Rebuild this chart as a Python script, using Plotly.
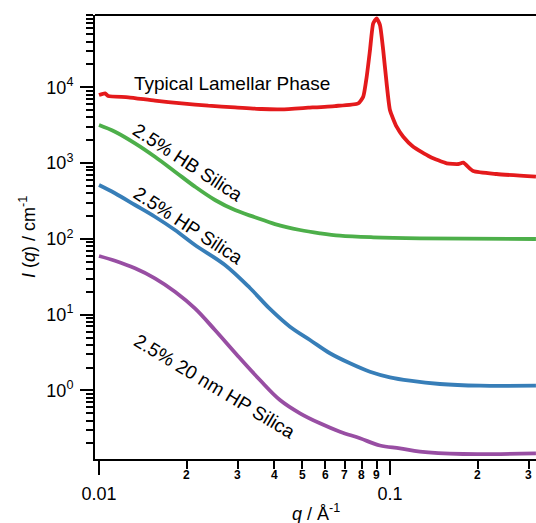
import math
import plotly.graph_objects as go

# ---------------- data ----------------
q_lam = [0.0100, 0.01049, 0.01076, 0.01261, 0.01557, 0.01924, 0.02375, 0.02934, 0.03623, 0.04244,
         0.05239, 0.06471, 0.07783, 0.08094, 0.0832, 0.0854, 0.0876, 0.0900, 0.0924, 0.0948,
         0.0974, 0.1000, 0.1054, 0.1111, 0.1202, 0.1372, 0.1566, 0.1717, 0.1786, 0.1933,
         0.2326, 0.3175]
I_lam = [7915, 8337, 7674, 7382, 6653, 6152, 5719, 5447, 5176, 5129,
         5383, 5663, 6152, 7516, 13800, 31000, 69900, 81300, 66300, 31000,
         11300, 5010, 3020, 2230, 1645, 1213, 993, 973, 1012, 787,
         718, 662]

q_hb = [0.0100, 0.01135, 0.0133, 0.01557, 0.01825, 0.02137, 0.02504, 0.02934, 0.03436, 0.04025,
        0.04907, 0.05747, 0.06733, 0.08763, 0.1268, 0.3175]
I_hb = [3183, 2596, 1824, 1214, 771, 489, 326, 240, 193, 157,
        131, 118.6, 110.2, 105, 101.9, 99.7]

q_hp = [0.0100, 0.01135, 0.0133, 0.01557, 0.01825, 0.02137, 0.0271, 0.03303, 0.03869,
        0.04533, 0.05311, 0.06219, 0.07289, 0.08537, 0.1000, 0.1171, 0.1485, 0.2039, 0.3175]
I_hp = [514, 400, 280, 196, 131, 83.2, 45.3, 22.5, 11.9,
        6.94, 4.64, 3.10, 2.285, 1.770, 1.493, 1.347, 1.218, 1.157, 1.157]

q_20 = [0.0100, 0.01135, 0.0133, 0.01557, 0.01825, 0.02137, 0.02504, 0.02981, 0.03574, 0.04188,
        0.04907, 0.05747, 0.06733, 0.07887, 0.0924, 0.1082, 0.1268, 0.1782, 0.3175]
I_20 = [59.5, 51.5, 40.9, 30.2, 20.1, 12.1, 6.28, 2.94, 1.375, 0.749,
        0.500, 0.369, 0.286, 0.234, 0.188, 0.1728, 0.1558, 0.1453, 0.1484]

series_names = ["Typical Lamellar Phase", "2.5% HB Silica", "2.5% HP Silica", "2.5% 20 nm HP Silica"]
series_colors = ["#e41a1c", "#4daf4a", "#377eb8", "#984ea3"]
series_smoothing = [0.5, 1.0, 1.0, 1.0]

x_major_vals = [0.01, 0.1]
x_major_text = ["0.01", "0.1"]
x_minor_vals = [0.02, 0.03, 0.04, 0.05, 0.06, 0.07, 0.08, 0.09, 0.2, 0.3]
x_minor_text = ["2", "3", "4", "5", "6", "7", "8", "9", "2", "3"]

y_major_vals = [1, 10, 100, 1000, 10000]
y_major_text = ["10<sup>0</sup>", "10<sup>1</sup>", "10<sup>2</sup>", "10<sup>3</sup>", "10<sup>4</sup>"]

FONT = "Liberation Sans, Arial, sans-serif"

fig = go.Figure()
for qs, Is, name, col, sm in zip([q_lam, q_hb, q_hp, q_20], [I_lam, I_hb, I_hp, I_20],
                                 series_names, series_colors, series_smoothing):
    fig.add_trace(go.Scatter(x=qs, y=Is, mode="lines", name=name,
                             line=dict(color=col, width=3.8, shape="spline", smoothing=sm)))

y_minor = [m * 10 ** e for e in range(-1, 5) for m in range(2, 10)]

fig.update_xaxes(type="log", range=[-2.0137, -0.498],
                 tickmode="array", tickvals=x_major_vals, ticktext=x_major_text,
                 ticks="outside", ticklen=14, tickwidth=2, tickcolor="black",
                 tickfont=dict(family=FONT, size=18, color="black"), ticklabelstandoff=3,
                 minor=dict(tickmode="array", tickvals=x_minor_vals, ticks="outside",
                            ticklen=8, tickwidth=2, tickcolor="black", showgrid=False),
                 showline=True, linecolor="black", linewidth=2, showgrid=False, zeroline=False)
fig.update_yaxes(type="log", range=[-0.904, 4.954],
                 tickmode="array", tickvals=y_major_vals, ticktext=y_major_text,
                 ticks="outside", ticklen=13, tickwidth=2, tickcolor="black",
                 tickfont=dict(family=FONT, size=18, color="black"), ticklabelstandoff=3,
                 minor=dict(tickmode="array", tickvals=y_minor, ticks="outside",
                            ticklen=7, tickwidth=1.5, tickcolor="black", showgrid=False),
                 showline=True, linecolor="black", linewidth=2, showgrid=False, zeroline=False)

annotations = []
for v, t in zip(x_minor_vals, x_minor_text):
    annotations.append(dict(x=math.log10(v), y=-0.037, xref="x", yref="paper", text="<b>" + t + "</b>",
                            showarrow=False, xanchor="center", yanchor="middle",
                            font=dict(family=FONT, size=12, color="black")))

# curve labels (pixel centre, angle)
label_pos = [(232, 84, 0), (188, 162, 33), (188, 226, 33), (215, 386, 31)]
L, T, W, H = 95, 15, 441, 444
for name, (px, py, ang) in zip(series_names, label_pos):
    annotations.append(dict(x=(px - L) / W, y=1 - (py - T) / H, xref="paper", yref="paper",
                            text=name, showarrow=False, textangle=ang,
                            xanchor="center", yanchor="middle",
                            font=dict(family=FONT, size=19, color="black")))

# axis titles
annotations.append(dict(x=0.5, y=-(512 - 459) / H, xref="paper", yref="paper",
                        text="<i>q</i> / Å<sup>-1</sup>", showarrow=False,
                        xanchor="center", yanchor="middle",
                        font=dict(family=FONT, size=18, color="black")))
annotations.append(dict(x=(27 - L) / W, y=0.5, xref="paper", yref="paper",
                        text="<i>I</i> (<i>q</i>) / cm<sup>-1</sup>", showarrow=False, textangle=-90,
                        xanchor="center", yanchor="middle",
                        font=dict(family=FONT, size=18, color="black")))

fig.update_layout(width=536, height=523, margin=dict(l=95, r=0, t=15, b=64),
                  paper_bgcolor="white", plot_bgcolor="white", showlegend=False,
                  annotations=annotations,
                  shapes=[dict(type="line", xref="paper", yref="paper", x0=0, x1=1, y0=1, y1=1,
                               line=dict(color="black", width=2))])

fig.write_html("out.html")
